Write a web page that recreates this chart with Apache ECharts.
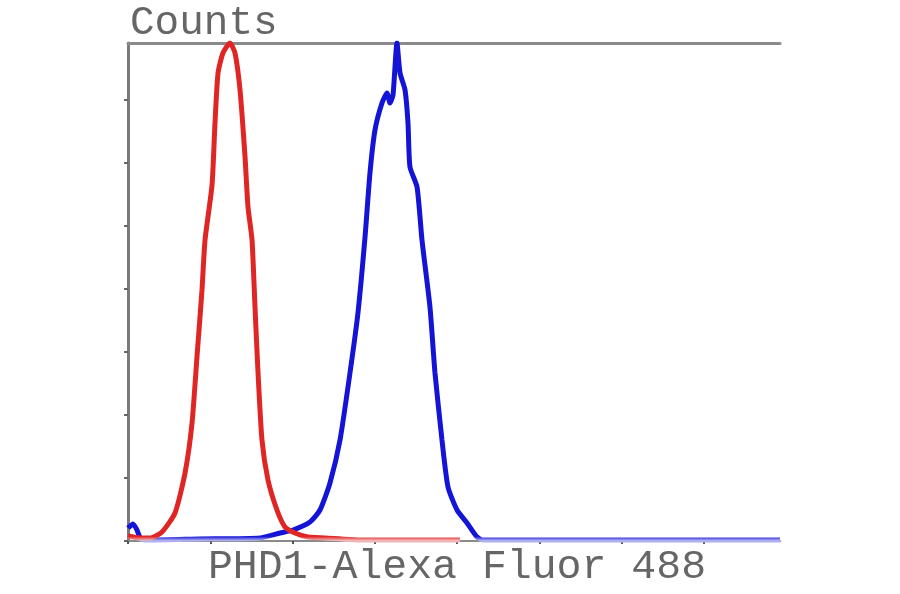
<!DOCTYPE html>
<html>
<head>
<meta charset="utf-8">
<script src="https://cdn.jsdelivr.net/npm/echarts@6/dist/echarts.min.js"></script>
<style>
html,body{margin:0;padding:0;background:#fff;}
#chart{width:900px;height:594px;}
</style>
</head>
<body>
<div id="chart"></div>
<script>
// Axis units: one tick step = 1
var xTicks = [0, 1, 2, 3, 4, 5, 6, 7];
var yTicks = [0, 1, 2, 3, 4, 5, 6, 7];
var xMax = 7.922;
var yMax = 7.905;

var yTitle = 'Counts';
var xTitle = 'PHD1-Alexa Fluor 488';

// Isotype control (red)
var redX = [0, 0.146, 0.267, 0.413, 0.571, 0.693, 0.778, 0.838, 0.899, 0.936, 1.021, 1.057, 1.094, 1.154, 1.239, 1.300, 1.361, 1.422, 1.458, 1.507, 1.543, 1.580, 1.628, 1.701, 1.810, 1.908, 2.029, 2.187, 2.394, 2.819, 4.034];
var redY = [0.079, 0.048, 0.048, 0.143, 0.444, 1.079, 1.873, 2.921, 3.984, 4.778, 5.651, 6.635, 7.429, 7.746, 7.905, 7.746, 7.159, 6.095, 5.302, 4.778, 3.714, 2.667, 1.603, 0.968, 0.492, 0.222, 0.127, 0.063, 0.048, 0.016, 0.016];

// PHD1 stained (blue)
var blueX = [0, 0.061, 0.109, 0.158, 0.267, 0.875, 1.604, 1.847, 2.005, 2.211, 2.333, 2.454, 2.576, 2.697, 2.794, 2.880, 2.940, 3.001, 3.086, 3.147, 3.183, 3.220, 3.268, 3.305, 3.366, 3.402, 3.426, 3.512, 3.572, 3.669, 3.730, 3.815, 3.888, 3.998, 4.119, 4.241, 4.313, 7.922];
var blueY = [0.206, 0.270, 0.175, 0.032, 0.016, 0.032, 0.048, 0.127, 0.175, 0.302, 0.492, 0.921, 1.603, 2.667, 3.619, 4.825, 5.841, 6.524, 6.952, 7.111, 6.952, 7.079, 7.905, 7.429, 7.159, 6.635, 5.937, 5.619, 4.778, 3.714, 2.667, 1.603, 0.857, 0.492, 0.286, 0.063, 0.016, 0.016];

function zip(a, b) { return a.map(function (v, i) { return [v, b[i]]; }); }
function fade(main, pale) {
  return {type: 'linear', x: 0, y: 0, x2: 0, y2: 1, colorStops: [
    {offset: 0, color: main}, {offset: 0.988, color: main}, {offset: 0.996, color: pale}, {offset: 1, color: pale}
  ]};
}

var chart = echarts.init(document.getElementById('chart'), null, {renderer: 'canvas'});
var fontFam = '"Liberation Mono", "Courier New", monospace';
chart.setOption({
  backgroundColor: '#ffffff',
  animation: false,
  grid: {left: 128, right: 120, top: 43, bottom: 53, containLabel: false},
  xAxis: [{
    type: 'value', min: 0, max: xMax,
    axisLine: {show: true, lineStyle: {color: '#8a8a8a', width: 2}},
    axisTick: {show: true, customValues: xTicks, length: 3, inside: false, lineStyle: {color: '#555', width: 2}},
    axisLabel: {show: false},
    splitLine: {show: false}
  }, {
    type: 'value', min: 0, max: xMax, position: 'top',
    axisLine: {show: true, onZero: false, lineStyle: {color: '#8a8a8a', width: 3}},
    axisTick: {show: false}, axisLabel: {show: false}, splitLine: {show: false}
  }],
  yAxis: {
    type: 'value', min: 0, max: yMax,
    axisLine: {show: true, lineStyle: {color: '#7a7a7a', width: 3}},
    axisTick: {show: true, customValues: yTicks, length: 4, lineStyle: {color: '#666', width: 2}},
    axisLabel: {show: false},
    splitLine: {show: false}
  },
  graphic: [{
    type: 'text', x: 130, y: 23,
    style: {text: yTitle, font: '41px ' + fontFam, fill: '#666666', align: 'left', verticalAlign: 'middle'}
  }, {
    type: 'text', x: 457, y: 567,
    style: {text: xTitle, font: '41.5px ' + fontFam, fill: '#666666', align: 'center', verticalAlign: 'middle'}
  }],
  series: [{
    type: 'line', name: 'PHD1', xAxisIndex: 0,
    data: zip(blueX, blueY), showSymbol: false, smooth: 0.2,
    lineStyle: {color: fade('#1414d6', '#aeaef0'), width: 5}, z: 2
  }, {
    type: 'line', name: 'Isotype', xAxisIndex: 0,
    data: zip(redX, redY), showSymbol: false, smooth: 0.2,
    lineStyle: {color: fade('#e02525', '#f2b4b4'), width: 5}, z: 3
  }]
});
</script>
</body>
</html>
